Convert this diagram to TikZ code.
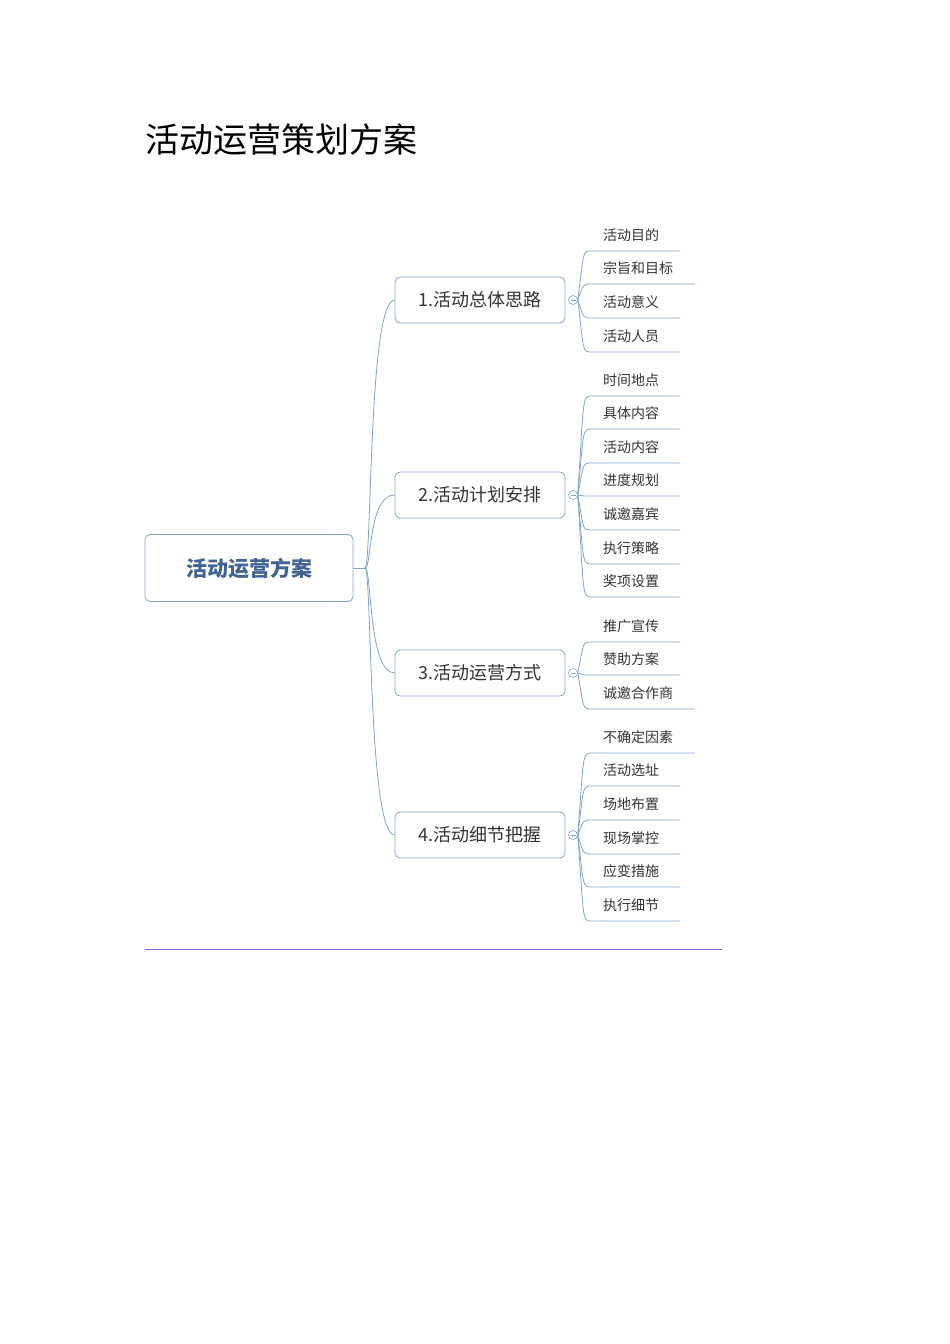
\documentclass[tikz,border=0pt]{standalone}
\usepackage{fontspec}
\setmainfont{Noto Sans CJK SC}
\newfontfamily\titlefont{Noto Sans CJK SC}
\usetikzlibrary{calc}
\definecolor{ln}{HTML}{7FA3CF}
\definecolor{rootc}{HTML}{3F6395}
\definecolor{txt}{HTML}{333333}
\definecolor{rule}{HTML}{6A6ACF}
\tikzset{
  rootbox/.style={draw=ln, rounded corners=5pt, minimum width=208pt, minimum height=67pt, font=\fontsize{21}{24}\selectfont\bfseries, text=rootc, line width=0.8pt},
  branchbox/.style={draw=ln, rounded corners=5pt, minimum width=170pt, minimum height=46pt, font=\fontsize{18}{22}\selectfont, text=txt, line width=0.8pt},
  leaftext/.style={anchor=west, inner sep=0pt, font=\fontsize{14}{16}\selectfont, text=txt},
  conn/.style={draw=ln, line width=0.8pt},
  toggle/.style={circle, draw=ln, minimum size=9pt, inner sep=0pt, line width=0.6pt}
}
\begin{document}
\begin{tikzpicture}[x=1pt,y=-1pt]
\useasboundingbox (0,0) rectangle (950,1344);
\node[anchor=west, inner sep=0pt, font=\fontsize{34}{38}\selectfont] (title) at (145,140) {活动运营策划方案};
\node[rootbox] (root) at (249,568) {活动运营方案};
\coordinate (rj) at (365,568);
\draw[conn] (root.east) -- (rj);
\foreach \i/\y/\t in {1/300/1.活动总体思路, 2/495/2.活动计划安排, 3/673/3.活动运营方式, 4/835/4.活动细节把握}{
  \node[branchbox] (b\i) at (480,\y) {\t};
  \draw[conn] (rj) .. controls (372,568) and (368,\y) .. (b\i.west);
  \node[toggle] (t\i) at (573,\y) {};
  \draw[ln, line width=0.6pt] ($(t\i.center)+(-2.5,0)$) -- ($(t\i.center)+(2.5,0)$);
}
\foreach \n/\b/\y/\e/\t in {
 a1/1/235/680/活动目的, a2/1/268/695/宗旨和目标, a3/1/302/680/活动意义, a4/1/336/680/活动人员,
 c1/2/380/680/时间地点, c2/2/413/680/具体内容, c3/2/447/680/活动内容, c4/2/480/680/进度规划, c5/2/514/680/诚邀嘉宾, c6/2/548/680/执行策略, c7/2/581/680/奖项设置,
 d1/3/626/680/推广宣传, d2/3/659/680/赞助方案, d3/3/693/695/诚邀合作商,
 e1/4/737/695/不确定因素, e2/4/770/680/活动选址, e3/4/804/680/场地布置, e4/4/838/680/现场掌控, e5/4/871/680/应变措施, e6/4/905/680/执行细节}{
  \node[leaftext] (\n) at (603,\y) {\t};
  \coordinate (\n s) at (592,\y+16);
  \coordinate (\n e) at (\e,\y+16);
  \draw[conn] (t\b.east) .. controls (584,{\y+16}) and (582,{\y+16}) .. (\n s) -- (\n e);
}
\draw[rule, line width=0.8pt] (145,949) -- (722,949);
\end{tikzpicture}
\end{document}
